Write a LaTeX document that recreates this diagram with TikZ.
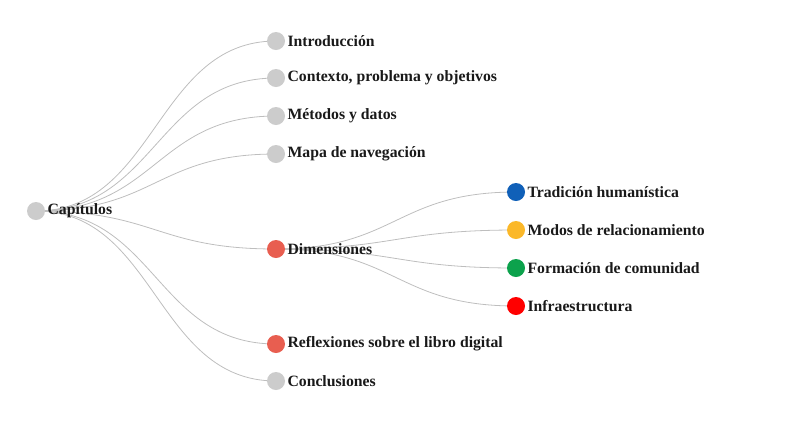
\documentclass[tikz,border=0pt]{standalone}
\usepackage{fontspec}
\setmainfont{Liberation Serif}
\usetikzlibrary{positioning, backgrounds}
\definecolor{Gris}{RGB}{204,204,204}
\definecolor{Coral}{RGB}{232,94,80}
\definecolor{Azul}{RGB}{16,96,184}
\definecolor{Ambar}{RGB}{251,184,41}
\definecolor{Verde}{RGB}{12,162,76}
\definecolor{Rojo}{RGB}{255,0,0}
\definecolor{Enlace}{RGB}{190,190,190}
\tikzset{
  dot/.style={circle, fill=#1, minimum size=13.5pt, inner sep=0pt},
  lbl/.style={font=\bfseries\fontsize{11.8}{13}\selectfont, text=black!90, inner sep=0pt},
  link/.style={draw=Enlace, line width=0.6pt}
}

\begin{document}
\begin{tikzpicture}[x=0.75pt, y=-0.75pt]
  \useasboundingbox (0,0) rectangle (792,426);
  % raiz
  \node[dot=Gris] (cap) at (36,211) {};
  \node[lbl, right=1.5pt of cap] {Capítulos};
  % capitulos
  \foreach \n/\y/\col/\txt in {
    intro/41/Gris/Introducción,
    ctx/78/Gris/{Contexto, problema y objetivos},
    met/116/Gris/Métodos y datos,
    mapa/154/Gris/Mapa de navegación,
    dim/249/Coral/Dimensiones,
    refl/344/Coral/Reflexiones sobre el libro digital,
    concl/381/Gris/Conclusiones} {
    \node[dot=\col] (\n) at (276,\y) {};
    \node[lbl, right=1.5pt of \n] {\txt};
    \begin{scope}[on background layer]
      \draw[link] (cap.center) .. controls +(120,0) and +(-120,0) .. (\n.center);
    \end{scope}
  }
  % dimensiones
  \foreach \n/\y/\col/\txt in {
    trad/192/Azul/Tradición humanística,
    modos/230/Ambar/Modos de relacionamiento,
    form/268/Verde/Formación de comunidad,
    infra/306/Rojo/Infraestructura} {
    \node[dot=\col] (\n) at (516,\y) {};
    \node[lbl, right=1.5pt of \n] {\txt};
    \begin{scope}[on background layer]
      \draw[link] (dim.center) .. controls +(120,0) and +(-120,0) .. (\n.center);
    \end{scope}
  }
\end{tikzpicture}
\end{document}
